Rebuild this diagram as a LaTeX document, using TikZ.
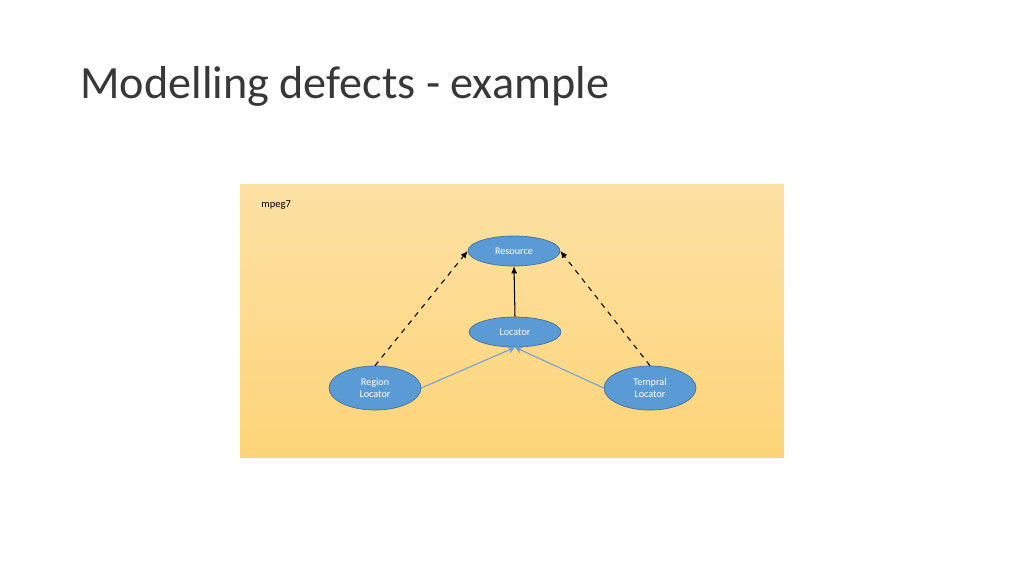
\documentclass[tikz,border=0pt]{standalone}
\usepackage{fontspec}
\setmainfont{Carlito}
\usetikzlibrary{shapes.geometric,arrows.meta}
\definecolor{bgtop}{HTML}{FDE1A4}
\definecolor{bgbot}{HTML}{FDD478}
\definecolor{ellfill}{HTML}{5B9BD5}
\definecolor{elldraw}{HTML}{41719C}
\definecolor{bluel}{HTML}{6FA0D0}
\tikzset{
  ell/.style={ellipse,fill=ellfill,draw=elldraw,line width=0.4pt,text=white,font=\fontsize{5.8}{6.4}\selectfont,align=center,inner sep=0pt},
  dep/.style={dashed,line width=0.6pt,-{Latex[length=4pt,width=3.5pt]}},
  gen/.style={bluel,line width=0.6pt,-{Stealth[length=4pt,width=4pt]}},
}
\begin{document}
\begin{tikzpicture}[x=0.02cm,y=-0.02cm]
\useasboundingbox (0,0) rectangle (1024,576);
\fill[white] (0,0) rectangle (1024,576);
\shade[top color=bgtop,bottom color=bgbot] (240,184) rectangle (784,457);
\node[anchor=west,inner sep=0pt,font=\fontsize{26.3}{30}\selectfont,text=black!78] (title) at (80,86) {Modelling defects - example};
\node[anchor=west,inner sep=0pt,font=\fontsize{6}{7}\selectfont] (pkg) at (261,205) {mpeg7};
\node[ell,minimum width=92*0.02cm,minimum height=30*0.02cm] (res) at (514,251) {Resource};
\node[ell,minimum width=92*0.02cm,minimum height=30*0.02cm] (loc) at (515,332) {Locator};
\node[ell,minimum width=92*0.02cm,minimum height=44*0.02cm] (reg) at (375,388) {Region\\Locator};
\node[ell,minimum width=92*0.02cm,minimum height=44*0.02cm] (tmp) at (650,388) {Tempral\\Locator};
\draw[-{Latex[length=4pt,width=3.5pt]},line width=0.6pt] (loc.north) -- (res.south);
\draw[dep] (reg.north) -- (res.west);
\draw[dep] (tmp.north) -- (res.east);
\draw[gen] (reg.east) -- (loc.south);
\draw[gen] (tmp.west) -- (loc.south);
\end{tikzpicture}
\end{document}
